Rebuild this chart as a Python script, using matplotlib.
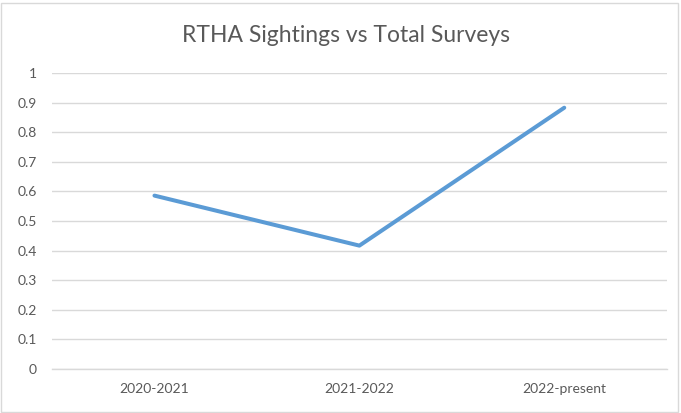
import matplotlib.pyplot as plt
from matplotlib.patches import Rectangle

# data
periods = ['2020-2021', '2021-2022', '2022-present']
ratio = [0.586, 0.417, 0.883]
y_ticks = [0, 0.1, 0.2, 0.3, 0.4, 0.5, 0.6, 0.7, 0.8, 0.9, 1]
y_labels = ['0', '0.1', '0.2', '0.3', '0.4', '0.5', '0.6', '0.7', '0.8', '0.9', '1']

plt.rcParams['font.family'] = ['Lato', 'DejaVu Sans']
text_grey = '#595959'
grid_grey = '#D9D9D9'

fig = plt.figure(figsize=(6.81, 4.13), dpi=100)
ax = fig.add_axes([0.0764, 0.1065, 0.9026, 0.7165])

x = range(len(periods))
ax.plot(x, ratio, color='#5B9BD5', linewidth=2.9, solid_capstyle='round')

ax.set_xlim(-0.5, len(periods) - 0.5)
ax.set_ylim(0, 1)
ax.set_xticks(list(x))
ax.set_xticklabels(periods)
ax.set_yticks(y_ticks)
ax.set_yticklabels(y_labels)
ax.tick_params(length=0, labelsize=10, colors=text_grey)
ax.tick_params(axis='y', pad=11)
ax.tick_params(axis='x', pad=10)

ax.grid(axis='y', color=grid_grey, linewidth=1.0)
ax.set_axisbelow(True)
for side in ['top', 'right', 'left']:
    ax.spines[side].set_visible(False)
ax.spines['bottom'].set_color(grid_grey)
ax.spines['bottom'].set_linewidth(1.0)

fig.text(0.508, 0.913, 'RTHA Sightings vs Total Surveys', ha='center', va='center',
         fontsize=16.5, color=text_grey)

# light frame around the chart area
fig.patches.append(Rectangle((0.002, 0.003), 0.994, 0.99, transform=fig.transFigure,
                             fill=False, edgecolor=grid_grey, linewidth=1.0))

fig.savefig('out.png', dpi=100)
